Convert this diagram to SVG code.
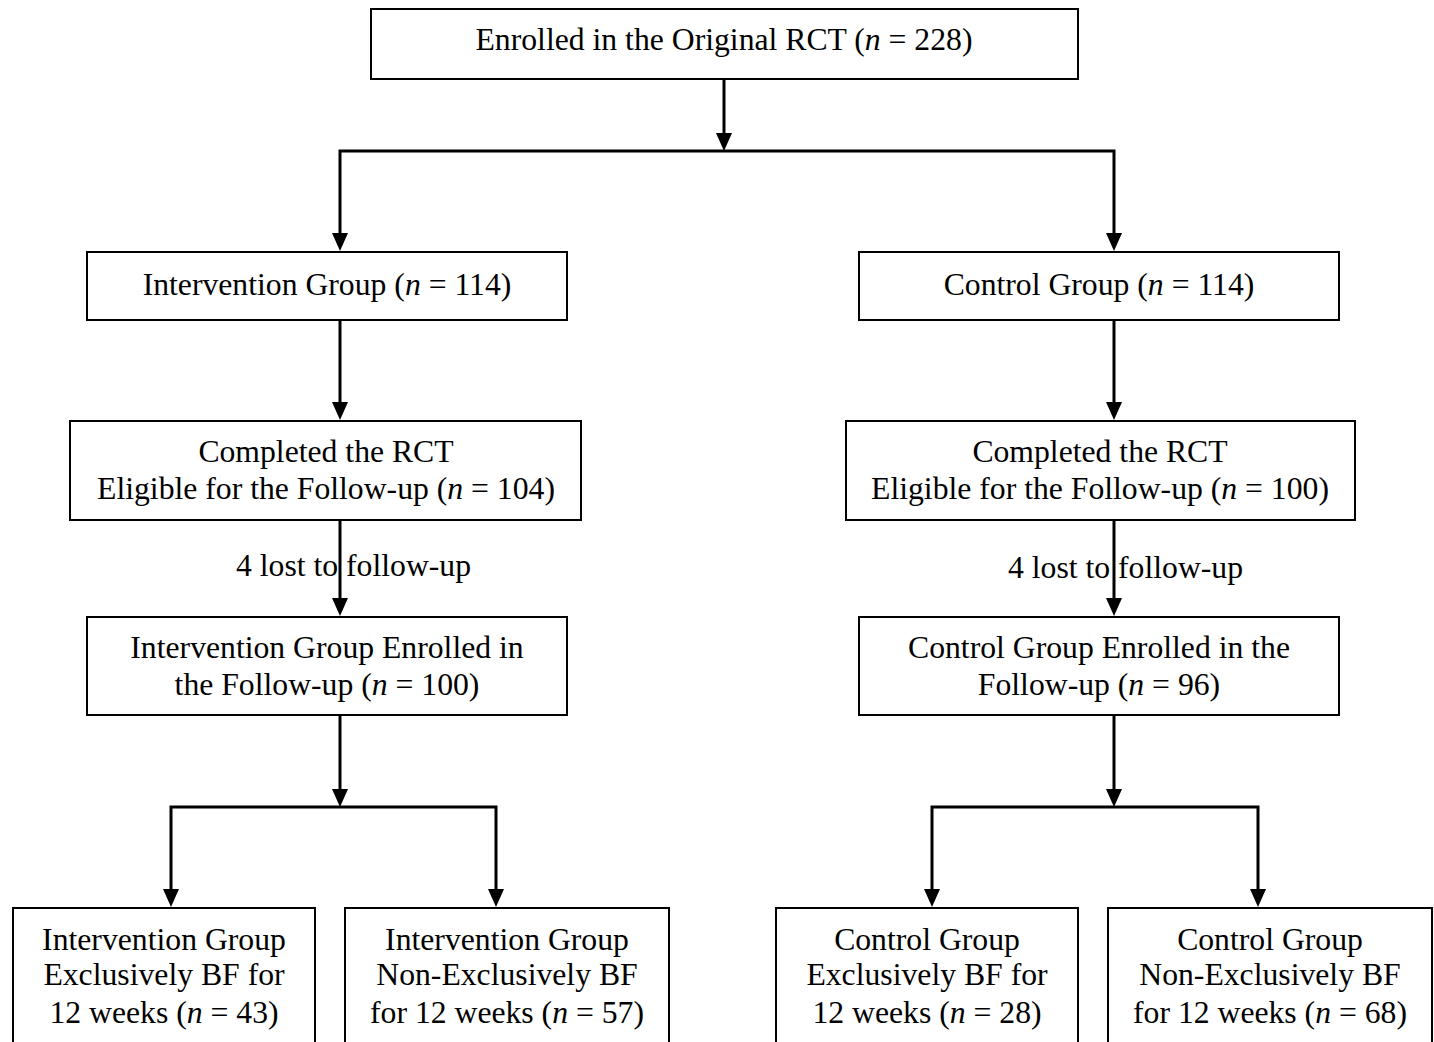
<svg xmlns="http://www.w3.org/2000/svg" width="1434" height="1042" viewBox="0 0 1434 1042">
<style>
.box{fill:#fff;stroke:#000;stroke-width:2}
.t{font-family:"Liberation Serif","Times New Roman",serif;font-size:31.7px;fill:#000;text-anchor:middle}
.l{font-family:"Liberation Serif","Times New Roman",serif;font-size:31.7px;fill:#000}
.c{fill:none;stroke:#000;stroke-width:3}
</style>
<rect width="1434" height="1042" fill="#fff"/>
<g id="connectors">
<path class="c" d="M724,79 V133"/>
<polygon points="716,133 732,133 724,151" fill="#000"/>
<path class="c" d="M340,233 V151 H1114 V233"/>
<polygon points="332,233 348,233 340,251" fill="#000"/>
<polygon points="1106,233 1122,233 1114,251" fill="#000"/>
<path class="c" d="M340,320 V402"/>
<polygon points="332,402 348,402 340,420" fill="#000"/>
<path class="c" d="M1114,320 V402"/>
<polygon points="1106,402 1122,402 1114,420" fill="#000"/>
<path class="c" d="M340,520 V598"/>
<polygon points="332,598 348,598 340,616" fill="#000"/>
<path class="c" d="M1114,520 V598"/>
<polygon points="1106,598 1122,598 1114,616" fill="#000"/>
<path class="c" d="M340,715 V789"/>
<polygon points="332,789 348,789 340,807" fill="#000"/>
<path class="c" d="M171,889 V807 H496 V889"/>
<polygon points="163,889 179,889 171,907" fill="#000"/>
<polygon points="488,889 504,889 496,907" fill="#000"/>
<path class="c" d="M1114,715 V789"/>
<polygon points="1106,789 1122,789 1114,807" fill="#000"/>
<path class="c" d="M932,889 V807 H1258 V889"/>
<polygon points="924,889 940,889 932,907" fill="#000"/>
<polygon points="1250,889 1266,889 1258,907" fill="#000"/>
<text class="l" x="236" y="576">4 lost to follow-up</text>
<text class="l" x="1008" y="578">4 lost to follow-up</text>
</g>
<g id="enrolled">
<rect class="box" x="371" y="9" width="707" height="70"/>
<text class="t" x="724" y="50">Enrolled in the Original RCT (<tspan font-style="italic">n</tspan> = 228)</text>
</g>
<g id="intervention">
<rect class="box" x="87" y="252" width="480" height="68"/>
<text class="t" x="327" y="295">Intervention Group (<tspan font-style="italic">n</tspan> = 114)</text>
</g>
<g id="control">
<rect class="box" x="859" y="252" width="480" height="68"/>
<text class="t" x="1099" y="295">Control Group (<tspan font-style="italic">n</tspan> = 114)</text>
</g>
<g id="int-completed">
<rect class="box" x="70" y="421" width="511" height="99"/>
<text class="t" x="326" y="462">Completed the RCT</text>
<text class="t" x="326" y="499">Eligible for the Follow-up (<tspan font-style="italic">n</tspan> = 104)</text>
</g>
<g id="ctl-completed">
<rect class="box" x="846" y="421" width="509" height="99"/>
<text class="t" x="1100" y="462">Completed the RCT</text>
<text class="t" x="1100" y="499">Eligible for the Follow-up (<tspan font-style="italic">n</tspan> = 100)</text>
</g>
<g id="int-followup">
<rect class="box" x="87" y="617" width="480" height="98"/>
<text class="t" x="327" y="658">Intervention Group Enrolled in</text>
<text class="t" x="327" y="695">the Follow-up (<tspan font-style="italic">n</tspan> = 100)</text>
</g>
<g id="ctl-followup">
<rect class="box" x="859" y="617" width="480" height="98"/>
<text class="t" x="1099" y="658">Control Group Enrolled in the</text>
<text class="t" x="1099" y="695">Follow-up (<tspan font-style="italic">n</tspan> = 96)</text>
</g>
<g id="int-ebf">
<rect class="box" x="13" y="908" width="302" height="140"/>
<text class="t" x="164" y="950">Intervention Group</text>
<text class="t" x="164" y="985">Exclusively BF for</text>
<text class="t" x="164" y="1023">12 weeks (<tspan font-style="italic">n</tspan> = 43)</text>
</g>
<g id="int-nebf">
<rect class="box" x="345" y="908" width="324" height="140"/>
<text class="t" x="507" y="950">Intervention Group</text>
<text class="t" x="507" y="985">Non-Exclusively BF</text>
<text class="t" x="507" y="1023">for 12 weeks (<tspan font-style="italic">n</tspan> = 57)</text>
</g>
<g id="ctl-ebf">
<rect class="box" x="776" y="908" width="302" height="140"/>
<text class="t" x="927" y="950">Control Group</text>
<text class="t" x="927" y="985">Exclusively BF for</text>
<text class="t" x="927" y="1023">12 weeks (<tspan font-style="italic">n</tspan> = 28)</text>
</g>
<g id="ctl-nebf">
<rect class="box" x="1108" y="908" width="324" height="140"/>
<text class="t" x="1270" y="950">Control Group</text>
<text class="t" x="1270" y="985">Non-Exclusively BF</text>
<text class="t" x="1270" y="1023">for 12 weeks (<tspan font-style="italic">n</tspan> = 68)</text>
</g>
</svg>
